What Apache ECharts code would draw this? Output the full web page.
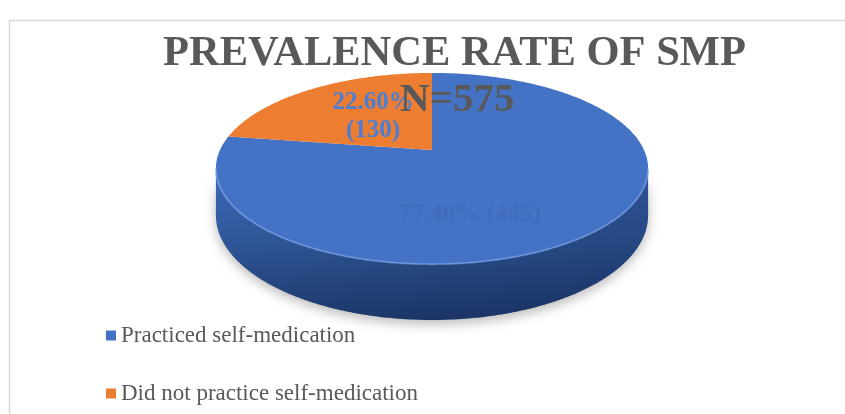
<!DOCTYPE html>
<html>
<head>
<meta charset="utf-8">
<script src="https://cdn.jsdelivr.net/npm/echarts@6/dist/echarts.min.js"></script>
<style>
html,body{margin:0;padding:0;background:#ffffff;}
#chart{width:845px;height:414px;}
</style>
</head>
<body>
<div id="chart"></div>
<script>
// ---------- data ----------
const categories = ['Practiced self-medication', 'Did not practice self-medication'];
const counts = [445, 130];
const percentLabels = ['77.40%', '22.60%'];
const titleText = 'PREVALENCE RATE OF SMP';
const sampleSizeText = 'N=575';

// ---------- layout / style ----------
const GEO = { cx: 432, cy: 150, rx: 212, ry: 92, k: 0.194, depth: 45 };
const STYLE = {
  top: ['#4472C4', '#ED7D31'],
  side: [['#3b67b6', '#30599c', '#1f3b70'], ['#d46a22', '#b85a1a', '#8a420f']],
  label: ['#406cbc', '#4a7fd5'],
  labelSep: [' ', '\n'],
  labelAnchor: [{ deg: -75.6, r: 0.634 }, { deg: 127.8, r: 0.488 }],
  serif: "'Liberation Serif', 'Times New Roman', serif",
  grey: '#595959'
};

const total = counts.reduce((a, b) => a + b, 0);
const starts = counts.map((_, i) => counts.slice(0, i).reduce((a, b) => a + b, 0));

// perspective projection of a point on the (unit) pie disk
function proj(theta, r, drop) {
  const u = Math.cos(theta) * r, v = Math.sin(theta) * r;
  const s = 1 / (1 + GEO.k * v);
  return [GEO.cx + GEO.rx * u * s, GEO.cy - GEO.ry * v * s + drop * s];
}

function makeRender(i) {
  return function (params, api) {
    const val = api.value(0), st = api.value(1), tot = api.value(2);
    const a0 = Math.PI / 2 - st / tot * 2 * Math.PI;   // clockwise from 12 o'clock
    const a1 = a0 - val / tot * 2 * Math.PI;
    const step = Math.PI / 360;
    const children = [];

    // top face
    const pts = [proj(0, 0, 0)];
    const n = Math.max(2, Math.ceil((a0 - a1) / step));
    for (let j = 0; j <= n; j++) pts.push(proj(a0 - (a0 - a1) * j / n, 1, 0));
    children.push({ type: 'polygon', shape: { points: pts }, style: { fill: STYLE.top[i] }, z2: 5 });

    // visible outer side wall (front half between silhouette points)
    const alpha = Math.asin(GEO.k);
    for (let m = -2; m <= 1; m++) {
      const lo = Math.max(a1, -Math.PI + alpha + 2 * Math.PI * m);
      const hi = Math.min(a0, -alpha + 2 * Math.PI * m);
      if (hi > lo) {
        const nn = Math.max(2, Math.ceil((hi - lo) / step));
        const topArc = [], botArc = [];
        for (let j = 0; j <= nn; j++) {
          const t = lo + (hi - lo) * j / nn;
          topArc.push(proj(t, 1, 0));
          botArc.push(proj(t, 1, GEO.depth));
        }
        const band = topArc.concat(botArc.slice().reverse());
        const sc = STYLE.side[i];
        children.push({
          type: 'polygon', shape: { points: band },
          style: {
            fill: new echarts.graphic.LinearGradient(0, 0, 0, 1, [
              { offset: 0, color: sc[0] }, { offset: 0.45, color: sc[1] }, { offset: 1, color: sc[2] }
            ]),
            shadowBlur: 12, shadowColor: 'rgba(0,0,0,0.28)', shadowOffsetY: 4
          },
          z2: 1
        });
        children.push({
          type: 'polygon', shape: { points: band },
          style: {
            fill: new echarts.graphic.LinearGradient(0, 0, 1, 0, [
              { offset: 0, color: 'rgba(0,0,0,0)' }, { offset: 1, color: 'rgba(0,10,40,0.22)' }
            ])
          },
          z2: 2
        });
        children.push({
          type: 'polyline', shape: { points: topArc },
          style: { stroke: 'rgba(125,165,235,0.55)', lineWidth: 2, fill: 'none' },
          z2: 6
        });
      }
    }

    // data label
    const la = STYLE.labelAnchor[i];
    const lp = proj(la.deg * Math.PI / 180, la.r, 0);
    children.push({
      type: 'text', x: lp[0], y: lp[1], z2: 10,
      style: {
        text: percentLabels[i] + STYLE.labelSep[i] + '(' + counts[i] + ')',
        fill: STYLE.label[i], fontFamily: STYLE.serif, fontWeight: 'bold', fontSize: 25,
        lineHeight: 28, align: 'center', verticalAlign: 'middle'
      }
    });
    return { type: 'group', children: children };
  };
}

const chart = echarts.init(document.getElementById('chart'), null, { renderer: 'canvas' });
chart.setOption({
  animation: false,
  backgroundColor: '#ffffff',
  title: [
    { text: titleText, left: 163, top: 33, padding: 0,
      textStyle: { fontFamily: STYLE.serif, fontWeight: 'bold', fontSize: 42.5, color: STYLE.grey } },
    { text: sampleSizeText, left: 400, top: 80, padding: 0,
      textStyle: { fontFamily: STYLE.serif, fontWeight: 'bold', fontSize: 41, color: STYLE.grey } }
  ],
  legend: {
    orient: 'vertical', left: 106, top: 324, padding: 0,
    itemWidth: 10, itemHeight: 10, itemGap: 35, icon: 'rect',
    textStyle: { fontFamily: STYLE.serif, fontSize: 23, color: STYLE.grey },
    data: categories
  },
  graphic: [{
    type: 'polyline', silent: true,
    shape: { points: [[9.5, 414], [9.5, 20.5], [845, 20.5]] },
    style: { stroke: '#d9d9d9', lineWidth: 1.5, fill: 'none' }
  }],
  series: categories.map((name, i) => ({
    type: 'custom', name: name, coordinateSystem: 'none',
    itemStyle: { color: STYLE.top[i] },
    renderItem: makeRender(i),
    data: [[counts[i], starts[i], total]]
  }))
});
</script>
</body>
</html>
